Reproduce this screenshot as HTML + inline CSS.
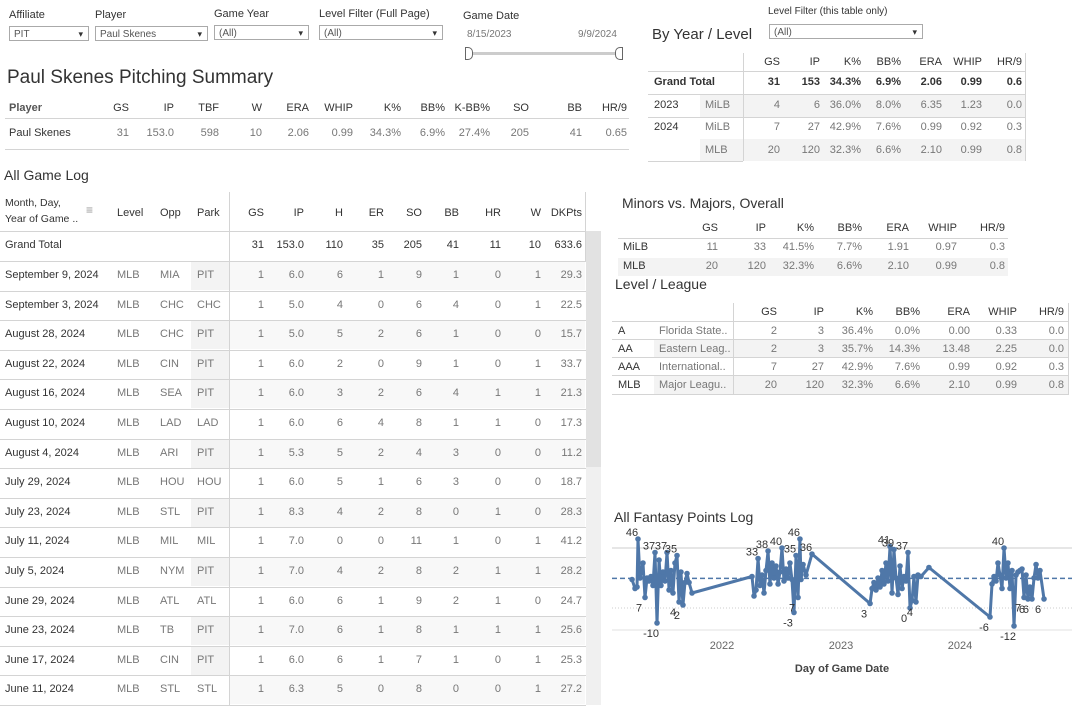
<!DOCTYPE html>
<html><head><meta charset="utf-8"><style>
body{margin:0;width:1087px;height:720px;background:#fff;font-family:"Liberation Sans",sans-serif;color:#333;position:relative;overflow:hidden}
.a{position:absolute;white-space:nowrap;font-size:11px}
.r{text-align:right}
.lbl{font-size:11px;color:#333}
.box{position:absolute;border:1px solid #aaa;height:15px;font-size:10px;color:#555;line-height:15px;padding-left:4px;box-sizing:border-box}
.box::after{content:"▾";position:absolute;right:5px;top:0;font-size:9px;color:#333}
.hl{position:absolute;height:1px;background:#d4d4d4}
.vl{position:absolute;width:1px;background:#d4d4d4}
.g{color:#777}
.sh{position:absolute;background:#f3f3f3}
.ttl{position:absolute;color:#333;white-space:nowrap}
</style></head><body>
<!-- filters -->
<div class="a lbl" style="left:9px;top:9px">Affiliate</div>
<div class="box" style="left:9px;top:26px;width:80px">PIT</div>
<div class="a lbl" style="left:95px;top:9px">Player</div>
<div class="box" style="left:95px;top:26px;width:113px">Paul Skenes</div>
<div class="a lbl" style="left:214px;top:8px">Game Year</div>
<div class="box" style="left:214px;top:25px;width:95px">(All)</div>
<div class="a lbl" style="left:319px;top:8px">Level Filter (Full Page)</div>
<div class="box" style="left:319px;top:25px;width:124px">(All)</div>
<div class="a lbl" style="left:463px;top:10px">Game Date</div>
<div class="a g" style="left:467px;top:29px;font-size:10px">8/15/2023</div>
<div class="a g" style="left:578px;top:29px;font-size:10px">9/9/2024</div>
<div style="position:absolute;left:467px;top:52px;width:154px;height:3px;background:#ccc"></div>
<div style="position:absolute;left:465px;top:47px;width:6px;height:11px;border:1px solid #666;border-radius:0 5px 5px 0;background:#fff"></div>
<div style="position:absolute;left:615px;top:47px;width:6px;height:11px;border:1px solid #666;border-radius:5px 0 0 5px;background:#fff"></div>

<div class="ttl" style="left:7px;top:67px;font-size:19px">Paul Skenes Pitching Summary</div>
<div id="summary"></div>

<div class="ttl" style="left:652px;top:26px;font-size:15px">By Year / Level</div>
<div class="a" style="left:768px;top:6px;font-size:10px">Level Filter (this table only)</div>
<div class="box" style="left:769px;top:24px;width:154px">(All)</div>
<div id="byyear"></div>

<div class="ttl" style="left:622px;top:195px;font-size:14px">Minors vs. Majors, Overall</div>
<div id="mm"></div>
<div class="ttl" style="left:615px;top:276px;font-size:14px">Level / League</div>
<div id="ll"></div>

<div class="ttl" style="left:4px;top:167px;font-size:14px">All Game Log</div>
<div id="log"></div>

<div class="ttl" style="left:614px;top:509px;font-size:14px">All Fantasy Points Log</div>
<svg id="chart" style="position:absolute;left:0;top:0" width="1087" height="720"></svg>

<script>
function mk(par,name,inter,txt,style,cls){const d=document.createElement('div');d.className='a '+(cls||'');if(txt!==undefined)d.textContent=txt;d.style.cssText=style;


par.appendChild(d);return d;}
function line(par,cls,style){const d=document.createElement('div');d.className=cls;d.style.cssText=style;


par.appendChild(d);}

// summary
const sumHead=["GS","IP","TBF","W","ERA","WHIP","K%","BB%","K-BB%","SO","BB","HR/9"];
const sumVals=["31","153.0","598","10","2.06","0.99","34.3%","6.9%","27.4%","205","41","0.65"];
const sumX=[129,174,219,262,309,353,401,445,490,529,582,627];
(function(){const p=document.getElementById('summary');
mk(p,'summary-header-player','false','Player','left:9px;top:102px;font-weight:bold;color:#555');
mk(p,'summary-player-name','false','Paul Skenes','left:9px;top:127px');
sumHead.forEach((h,i)=>{mk(p,'summary-header-'+h.toLowerCase(),'false',h,'right:'+(1087-sumX[i])+'px;top:102px');
mk(p,'summary-value-'+h.toLowerCase(),'false',sumVals[i],'right:'+(1087-sumX[i])+'px;top:127px','g');});
line(p,'hl','left:5px;top:118px;width:624px');line(p,'hl','left:5px;top:149px;width:624px');})();

// by year
const byHead=["GS","IP","K%","BB%","ERA","WHIP","HR/9"];
const byX=[780,820,861,901,942,982,1022];
const byRows=[["Grand Total","", ["31","153","34.3%","6.9%","2.06","0.99","0.6"]],["2023","MiLB",["4","6","36.0%","8.0%","6.35","1.23","0.0"]],["2024","MiLB",["7","27","42.9%","7.6%","0.99","0.92","0.3"]],["","MLB",["20","120","32.3%","6.6%","2.10","0.99","0.8"]]];
(function(){const p=document.getElementById('byyear');const ys=[76,99,121,144];
line(p,'sh','left:700px;top:94px;width:326px;height:23px');line(p,'sh','left:700px;top:139px;width:326px;height:22px');
byHead.forEach((h,i)=>mk(p,'byyear-header-'+h.toLowerCase(),'false',h,'right:'+(1087-byX[i])+'px;top:56px'));
byRows.forEach((r,j)=>{mk(p,'byyear-row-label','false',r[0],'left:654px;top:'+ys[j]+'px'+(j==0?';font-weight:bold':''));
if(r[1])mk(p,'byyear-level','false',r[1],'left:705px;top:'+ys[j]+'px','g');
r[2].forEach((v,i)=>mk(p,'byyear-cell','false',v,'right:'+(1087-byX[i])+'px;top:'+ys[j]+'px'+(j==0?';font-weight:bold;color:#333':''),'g'));});
line(p,'vl','left:743px;top:53px;height:108px');line(p,'vl','left:1025px;top:53px;height:108px');
line(p,'hl','left:648px;top:71px;width:378px');line(p,'hl','left:648px;top:94px;width:378px');line(p,'hl','left:648px;top:117px;width:378px');line(p,'hl','left:648px;top:161px;width:95px');})();

// minors majors
const mmX=[718,766,814,862,909,957,1005];
const mmRows=[["MiLB",["11","33","41.5%","7.7%","1.91","0.97","0.3"]],["MLB",["20","120","32.3%","6.6%","2.10","0.99","0.8"]]];
(function(){const p=document.getElementById('mm');
line(p,'sh','left:618px;top:258px;width:390px;height:18px');
byHead.forEach((h,i)=>mk(p,'mm-header-'+h.toLowerCase(),'false',h,'right:'+(1087-mmX[i])+'px;top:222px'));
line(p,'hl','left:618px;top:238px;width:390px');
mmRows.forEach((r,j)=>{const y=241+j*19;mk(p,'mm-row-label','false',r[0],'left:623px;top:'+y+'px');
r[1].forEach((v,i)=>mk(p,'mm-cell','false',v,'right:'+(1087-mmX[i])+'px;top:'+y+'px','g'));});})();

// level league
const llX=[777,824,873,920,970,1017,1064];
const llRows=[["A","Florida State..",["2","3","36.4%","0.0%","0.00","0.33","0.0"]],["AA","Eastern Leag..",["2","3","35.7%","14.3%","13.48","2.25","0.0"]],["AAA","International..",["7","27","42.9%","7.6%","0.99","0.92","0.3"]],["MLB","Major Leagu..",["20","120","32.3%","6.6%","2.10","0.99","0.8"]]];
(function(){const p=document.getElementById('ll');
line(p,'sh','left:654px;top:340px;width:414px;height:18px');line(p,'sh','left:654px;top:376px;width:414px;height:18px');
byHead.forEach((h,i)=>mk(p,'ll-header-'+h.toLowerCase(),'false',h,'right:'+(1087-llX[i])+'px;top:306px'));
line(p,'vl','left:733px;top:303px;height:91px');line(p,'vl','left:1068px;top:303px;height:91px');
llRows.forEach((r,j)=>{const y=325+j*18;line(p,'hl','left:612px;top:'+(321+j*18)+'px;width:457px');
mk(p,'ll-level','false',r[0],'left:618px;top:'+y+'px');mk(p,'ll-league','false',r[1],'left:659px;top:'+y+'px','g');
r[2].forEach((v,i)=>mk(p,'ll-cell','false',v,'right:'+(1087-llX[i])+'px;top:'+y+'px','g'));});
line(p,'hl','left:612px;top:394px;width:457px');})();

// game log
const logHead=["GS","IP","H","ER","SO","BB","HR","W","DKPts"];
const logX=[264,304,343,384,422,459,501,541,582];
const logTotal=["31","153.0","110","35","205","41","11","10","633.6"];
const logDates=["September 9, 2024","September 3, 2024","August 28, 2024","August 22, 2024","August 16, 2024","August 10, 2024","August 4, 2024","July 29, 2024","July 23, 2024","July 11, 2024","July 5, 2024","June 29, 2024","June 23, 2024","June 17, 2024","June 11, 2024"];
const logOpp=["MIA","CHC","CHC","CIN","SEA","LAD","ARI","HOU","STL","MIL","NYM","ATL","TB","CIN","STL"];
const logPark=["PIT","CHC","PIT","PIT","PIT","LAD","PIT","HOU","PIT","MIL","PIT","ATL","PIT","PIT","STL"];
const logStats=[["1","6.0","6","1","9","1","0","1","29.3"],["1","5.0","4","0","6","4","0","1","22.5"],["1","5.0","5","2","6","1","0","0","15.7"],["1","6.0","2","0","9","1","0","1","33.7"],["1","6.0","3","2","6","4","1","1","21.3"],["1","6.0","6","4","8","1","1","0","17.3"],["1","5.3","5","2","4","3","0","0","11.2"],["1","6.0","5","1","6","3","0","0","18.7"],["1","8.3","4","2","8","0","1","0","28.3"],["1","7.0","0","0","11","1","0","1","41.2"],["1","7.0","4","2","8","2","1","1","28.2"],["1","6.0","6","1","9","2","1","0","24.7"],["1","7.0","6","1","8","1","1","1","25.6"],["1","6.0","6","1","7","1","0","1","25.3"],["1","6.3","5","0","8","0","0","1","27.2"]];
(function(){const p=document.getElementById('log');
line(p,'sh','left:586px;top:231px;width:15px;height:474px;background:#f0f0f0');
line(p,'sh','left:586px;top:231px;width:15px;height:236px;background:#e2e2e2');
mk(p,'log-header-date','false','Month, Day,','left:5px;top:197px;font-size:10.5px');
mk(p,'log-header-date2','false','Year of Game ..','left:5px;top:213px;font-size:10.5px');
mk(p,'log-sort-icon','true','≡','left:86px;top:203px;font-size:12px;color:#999');
mk(p,'log-header-level','false','Level','left:117px;top:207px');
mk(p,'log-header-opp','false','Opp','left:160px;top:207px');
mk(p,'log-header-park','false','Park','left:197px;top:207px');
logHead.forEach((h,i)=>mk(p,'log-header-'+h.toLowerCase(),'false',h,'right:'+(1087-logX[i])+'px;top:207px'));
line(p,'vl','left:229px;top:192px;height:513px');line(p,'vl','left:585px;top:192px;height:70px');
line(p,'hl','left:0;top:231px;width:586px');
mk(p,'log-grand-total','false','Grand Total','left:5px;top:239px');
logTotal.forEach((v,i)=>mk(p,'log-total-cell','false',v,'right:'+(1087-logX[i])+'px;top:239px'));
logDates.forEach((d,j)=>{const top=261+j*29.6, y=top+8;
line(p,'hl','left:0;top:'+top+'px;width:586px');
if(j%2==0)line(p,'sh','left:230px;top:'+(top+1)+'px;width:355px;height:28px;background:#f8f8f8');
if(logPark[j]=='PIT')line(p,'sh','left:191px;top:'+(top+1)+'px;width:38px;height:28px');
mk(p,'log-date','false',d,'left:5px;top:'+y+'px');
mk(p,'log-level','false','MLB','left:117px;top:'+y+'px','g');
mk(p,'log-opp','false',logOpp[j],'left:160px;top:'+y+'px','g');
mk(p,'log-park','false',logPark[j],'left:197px;top:'+y+'px','g');
logStats[j].forEach((v,i)=>mk(p,'log-cell','false',v,'right:'+(1087-logX[i])+'px;top:'+y+'px','g'));});
line(p,'hl','left:0;top:705px;width:586px');})();
</script>
<script>
// chart data
const gameDates=[2021.244,2021.269,2021.286,2021.294,2021.311,2021.336,2021.353,2021.370,2021.387,2021.403,2021.420,2021.437,2021.454,2021.471,2021.487,2021.504,2021.521,2021.538,2021.555,2021.571,2021.588,2021.605,2021.622,2021.639,2021.655,2021.672,2021.689,2021.706,2021.723,2021.748,
2022.252,2022.269,2022.286,2022.303,2022.319,2022.336,2022.353,2022.370,2022.387,2022.403,2022.420,2022.437,2022.454,2022.471,2022.487,2022.504,2022.521,2022.538,2022.555,2022.571,2022.588,2022.605,2022.622,2022.639,2022.655,2022.664,2022.681,2022.706,2022.756,
2023.244,2023.261,2023.277,2023.294,2023.311,2023.328,2023.345,2023.361,2023.378,2023.395,2023.412,2023.429,2023.445,2023.462,2023.479,2023.496,2023.513,2023.529,2023.546,2023.563,2023.580,2023.597,2023.613,2023.630,2023.647,2023.672,2023.739,
2024.252,2024.269,2024.286,2024.303,2024.319,2024.336,2024.353,2024.370,2024.387,2024.403,2024.420,2024.437,2024.454,2024.471,2024.487,2024.504,2024.521,2024.538,2024.555,2024.571,2024.588,2024.605,2024.622,2024.639,2024.655,2024.672,2024.706];
const fantasyPts=[19,13,14,46,20,30,7,20,18,21,15,37,-10,32,15,24,18,37,12,25,10,30,35,4,24,2,17,23,17,10,
21,8,12,33,15,22,10,25,38,16,30,20,28,16,24,40,18,26,20,30,19,-3,35,7,46,19,29,22,36,
3,13,17,12,20,14,25,16,30,18,41,10,39,20,9,28,13,21,18,37,0,5,21,4,22,21,27,
-6,16,21,18,30,22,13,40,20,30,13,25,-12,22,24,25,26,7,22,6,14,6,20,29,20,25,6];
const yearTicks=[2022,2023,2024];
const yGrid=[40,0];

const svg=document.getElementById('chart');const NS='http://www.w3.org/2000/svg';
const X0=612,X1=1072;
function xs(t){return 722+(t-2022)*119;}
function ys(v){return 608-v*1.5;}
function el(tag,attrs,name){const e=document.createElementNS(NS,tag);for(const k in attrs)e.setAttribute(k,attrs[k]);


svg.appendChild(e);return e;}
yGrid.forEach(v=>el('line',{x1:X0,x2:X1,y1:ys(v),y2:ys(v),stroke:'#ccc','stroke-dasharray':v==0?'1,2':'none','stroke-width':1},'y-gridline'));
el('line',{x1:X0,x2:X1,y1:630,y2:630,stroke:'#e0e0e0'},'x-axis-line');
yearTicks.forEach(y=>{const t=el('text',{x:xs(y),y:649,'text-anchor':'middle','font-size':11,fill:'#666','font-family':'Liberation Sans'},'x-tick-label');t.textContent=y;});
const xt=el('text',{x:842,y:672,'text-anchor':'middle','font-size':11,'font-weight':'bold',fill:'#444','font-family':'Liberation Sans'},'x-axis-title');xt.textContent='Day of Game Date';
const avg=fantasyPts.reduce((a,b)=>a+b,0)/fantasyPts.length;
el('line',{x1:X0,x2:X1,y1:ys(avg),y2:ys(avg),stroke:'#4f77a8','stroke-dasharray':'5,3','stroke-width':1.5},'average-line');
el('polyline',{points:gameDates.map((d,i)=>xs(d)+','+ys(fantasyPts[i])).join(' '),fill:'none',stroke:'#4f77a8','stroke-width':3,'stroke-linejoin':'round'},'fantasy-line');
gameDates.forEach((d,i)=>{el('circle',{cx:xs(d),cy:ys(fantasyPts[i]),r:2.8,fill:'#4f77a8'},'fantasy-point');
const v=fantasyPts[i],pv=fantasyPts[i-1],nv=fantasyPts[i+1];
const peak=(pv===undefined||v>=pv)&&(nv===undefined||v>=nv),trough=(pv===undefined||v<=pv)&&(nv===undefined||v<=nv);
if((peak&&v>=33)||(trough&&v<=7)){const t=el('text',{x:xs(d)-6,y:peak?ys(v)-3:ys(v)+14,'text-anchor':'middle','font-size':11,fill:'#333','font-family':'Liberation Sans'},'point-label');t.textContent=v;}});
</script>
</body></html>
